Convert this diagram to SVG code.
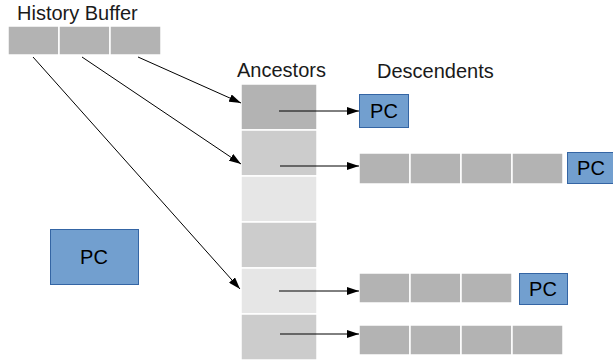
<svg xmlns="http://www.w3.org/2000/svg" width="613" height="360" viewBox="0 0 613 360">
  <style>
    .lbl { font-family: "Liberation Sans", Arial, sans-serif; font-size: 20px; fill: #1a1a1a; }
    .pct { font-family: "Liberation Sans", Arial, sans-serif; font-size: 20px; fill: #000; text-anchor: middle; dominant-baseline: central; }
    .c0 { fill: #b3b3b3; stroke: #ffffff; stroke-width: 1.5; }
    .c1 { fill: #cccccc; stroke: #ffffff; stroke-width: 1.5; }
    .c2 { fill: #e6e6e6; stroke: #ffffff; stroke-width: 1.5; }
    .pc { fill: #729fcf; stroke: #3465a4; stroke-width: 1; }
    .wire { stroke: #000; stroke-width: 1; fill: none; marker-end: url(#arr); }
  </style>
  <defs>
    <marker id="arr" viewBox="0 0 12 8" refX="12" refY="4" markerWidth="12" markerHeight="8" markerUnits="userSpaceOnUse" orient="auto">
      <path d="M0,0 L12,4 L0,8 Z" fill="#000"/>
    </marker>
  </defs>

  <!-- history buffer -->
  <g id="history">
    <text class="lbl" x="17" y="20">History Buffer</text>
    <rect class="c0" x="8" y="26" width="51" height="29"/>
    <rect class="c0" x="59" y="26" width="51" height="29"/>
    <rect class="c0" x="110" y="26" width="51" height="29"/>
  </g>

  <!-- ancestor stack -->
  <g id="ancestors">
    <text class="lbl" x="237" y="77">Ancestors</text>
    <rect class="c0" x="241" y="84" width="76" height="46"/>
    <rect class="c1" x="241" y="130" width="76" height="46"/>
    <rect class="c2" x="241" y="176" width="76" height="46"/>
    <rect class="c1" x="241" y="222" width="76" height="46"/>
    <rect class="c2" x="241" y="268" width="76" height="46"/>
    <rect class="c1" x="241" y="314" width="76" height="46"/>
  </g>

  <g id="descendents-label">
    <text class="lbl" x="377" y="78">Descendents</text>
  </g>

  <!-- row 1 descendant -->
  <g id="pc-row1">
    <rect class="pc" x="359.5" y="94.5" width="49" height="33"/>
    <text class="pct" x="384" y="111">PC</text>
  </g>

  <!-- row 2 descendants -->
  <g id="desc-row2">
    <rect class="c0" x="359" y="153" width="51" height="31"/>
    <rect class="c0" x="410" y="153" width="51" height="31"/>
    <rect class="c0" x="461" y="153" width="51" height="31"/>
    <rect class="c0" x="512" y="153" width="51" height="31"/>
  </g>
  <g id="pc-row2">
    <rect class="pc" x="567.5" y="152.5" width="46" height="31"/>
    <text class="pct" x="591" y="168">PC</text>
  </g>

  <!-- row 5 descendants -->
  <g id="desc-row5">
    <rect class="c0" x="359" y="273" width="51" height="30"/>
    <rect class="c0" x="410" y="273" width="51" height="30"/>
    <rect class="c0" x="461" y="273" width="51" height="30"/>
  </g>
  <g id="pc-row5">
    <rect class="pc" x="519.5" y="273.5" width="48" height="31"/>
    <text class="pct" x="543" y="289">PC</text>
  </g>

  <!-- row 6 descendants -->
  <g id="desc-row6">
    <rect class="c0" x="359" y="325" width="51" height="30"/>
    <rect class="c0" x="410" y="325" width="51" height="30"/>
    <rect class="c0" x="461" y="325" width="51" height="30"/>
    <rect class="c0" x="512" y="325" width="51" height="30"/>
  </g>

  <!-- standalone PC -->
  <g id="pc-free">
    <rect class="pc" x="50.5" y="229.5" width="88" height="55"/>
    <text class="pct" x="94" y="257">PC</text>
  </g>

  <!-- connectors -->
  <g id="connectors">
    <line class="wire" x1="138" y1="57" x2="241" y2="103"/>
    <line class="wire" x1="82" y1="57" x2="241" y2="164"/>
    <line class="wire" x1="33" y1="57" x2="240" y2="289"/>
    <line class="wire" x1="279" y1="111" x2="359" y2="111"/>
    <line class="wire" x1="280" y1="166" x2="359" y2="166"/>
    <line class="wire" x1="279" y1="291" x2="359" y2="291"/>
    <line class="wire" x1="280" y1="334" x2="359" y2="334"/>
  </g>
</svg>
